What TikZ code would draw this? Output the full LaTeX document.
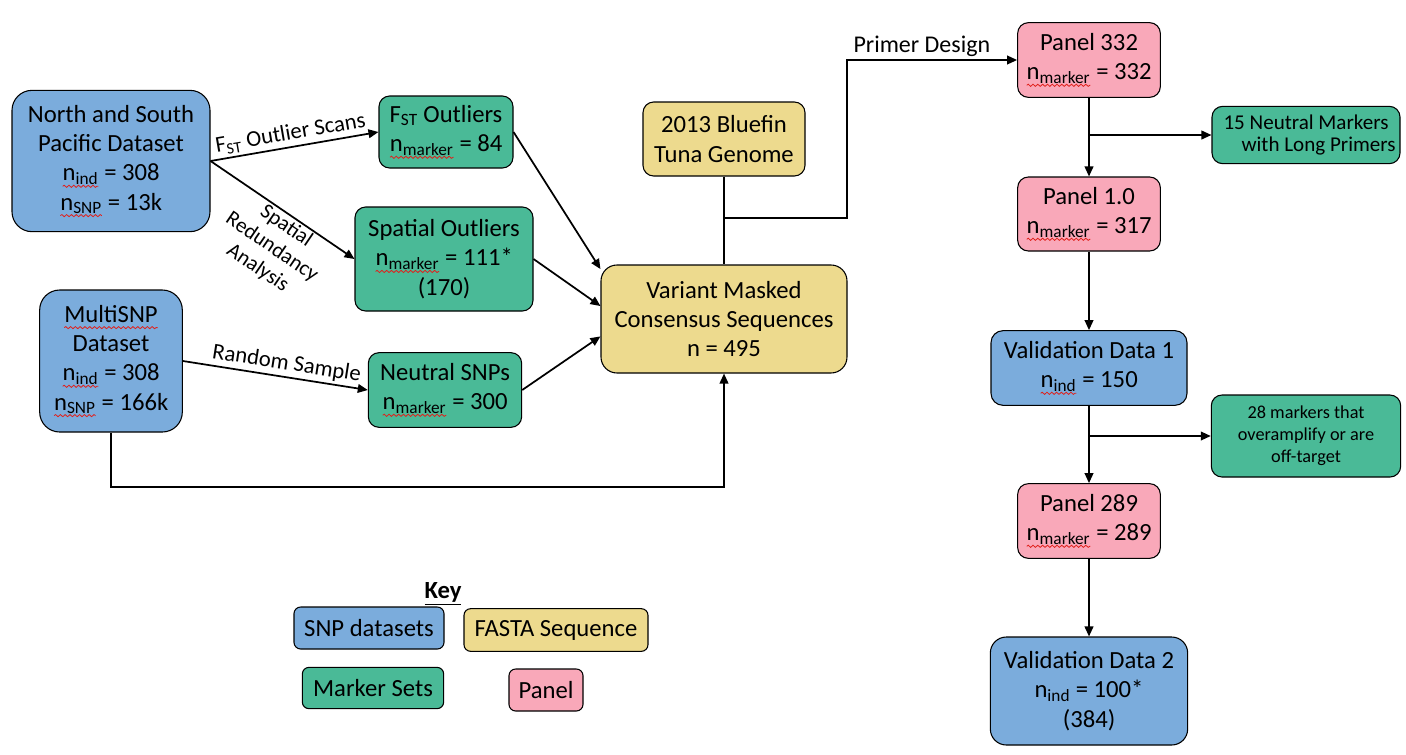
\documentclass[tikz,border=0pt]{standalone}
\usepackage{fontspec}
\setmainfont{Carlito}
\usetikzlibrary{arrows.meta, positioning, decorations.pathmorphing}
\definecolor{snpBlue}{HTML}{7BACDC}
\definecolor{markGreen}{HTML}{4ABA97}
\definecolor{fastaYellow}{HTML}{EDDA8E}
\definecolor{panelPink}{HTML}{F9A8B9}
\definecolor{waveRed}{HTML}{E0201B}
\newcommand{\spellwave}[1]{\tikz[baseline=(w.base), x=1pt, y=1pt]{%
  \node[inner sep=0pt, outer sep=0pt, minimum width=0pt, minimum height=0pt,
        draw=none, fill=none, rounded corners=0pt] (w) {#1};
  \draw[waveRed, line width=0.6pt, sharp corners, decorate,
        decoration={snake, amplitude=0.8pt, segment length=3.6pt}]
    ([yshift=-4.2pt]w.base west) -- ([yshift=-4.2pt]w.base east);}}
\newcommand{\nind}{\spellwave{n\textsubscript{ind}}}
\newcommand{\nsnp}{\spellwave{n\textsubscript{SNP}}}
\newcommand{\nmark}{\spellwave{n\textsubscript{marker}}}

\begin{document}
\begin{tikzpicture}[x=0.75pt, y=-0.75pt,
    box/.style={rectangle, rounded corners=8pt, draw=black, line width=0.8pt,
                align=center, inner sep=1pt, font=\fontsize{18.5}{22}\selectfont},
    snp/.style={box, fill=snpBlue},
    marker/.style={box, fill=markGreen},
    fasta/.style={box, fill=fastaYellow},
    panel/.style={box, fill=panelPink},
    note/.style={marker, font=\fontsize{13.7}{16.5}\selectfont},
    keybox/.style={box, rounded corners=5pt},
    flow/.style={-{Triangle[length=7.5pt, width=6.5pt]}, line width=1.3pt},
    link/.style={line width=1.3pt},
    edgelbl/.style={font=\fontsize{17}{20}\selectfont, inner sep=2pt},
  ]
    \useasboundingbox (0,0) rectangle (1406,754);

    \node[snp, rounded corners=15pt, minimum width=148.5pt, minimum height=106pt] (ns) at (111,161)
      {North and South\\Pacific Dataset\\\nind{} = 308\\\nsnp{} = 13k};
    \node[snp, rounded corners=15pt, minimum width=107pt, minimum height=106.5pt] (multi) at (111,361)
      {\spellwave{MultiSNP}\\Dataset\\\nind{} = 308\\\nsnp{} = 166k};
    \node[marker, minimum width=100.5pt, minimum height=54pt] (fst) at (446,132)
      {F\textsubscript{ST} Outliers\\\nmark{} = 84};
    \node[marker, minimum width=133.5pt, minimum height=78pt] (spat) at (444,259)
      {Spatial Outliers\\\nmark{} = 111*\\(170)};
    \node[marker, minimum width=115pt, minimum height=56pt] (neut) at (445,390)
      {Neutral SNPs\\\nmark{} = 300};
    \node[fasta, minimum width=121.5pt, minimum height=55.5pt] (tuna) at (724,139)
      {2013 Bluefin\\Tuna Genome};
    \node[fasta, rounded corners=12pt, minimum width=184.5pt, minimum height=81pt] (vmc) at (724,319)
      {Variant Masked\\Consensus Sequences\\n = 495};

    \node[panel, minimum width=107pt, minimum height=56pt] (p332) at (1089,60)
      {Panel 332\\\nmark{} = 332};
    \node[note, font=\fontsize{15.8}{16.5}\selectfont, minimum width=141pt, minimum height=43pt] (long) at (1306,135)
      {15 Neutral Markers\\\hspace*{1.2em}with Long Primers};
    \node[panel, minimum width=107pt, minimum height=55.5pt] (p10) at (1089,214)
      {Panel 1.0\\\nmark{} = 317};
    \node[snp, rounded corners=9pt, minimum width=147pt, minimum height=56pt] (val1) at (1089,368)
      {Validation Data 1\\\nind{} = 150};
    \node[note, minimum width=142pt, minimum height=61.5pt] (off) at (1306,436)
      {28 markers that\\overamplify or are\\off-target};
    \node[panel, minimum width=107pt, minimum height=56pt] (p289) at (1089,521)
      {Panel 289\\\nmark{} = 289};
    \node[snp, rounded corners=12pt, minimum width=148pt, minimum height=81pt] (val2) at (1089,691)
      {Validation Data 2\\n\textsubscript{ind} = 100*\\(384)};

    \node[font=\fontsize{18.5}{22}\selectfont\bfseries] (keyt) at (443,594) {\underline{Key}};
    \node[keybox, fill=snpBlue, minimum width=112.5pt, minimum height=31.5pt] (k1) at (369,628) {SNP datasets};
    \node[keybox, fill=fastaYellow, minimum width=138pt, minimum height=32pt] (k2) at (556,630) {FASTA Sequence};
    \node[keybox, fill=markGreen, minimum width=106pt, minimum height=31pt] (k3) at (373,688) {Marker Sets};
    \node[keybox, fill=panelPink, minimum width=55.5pt, minimum height=31.5pt] (k4) at (546,690) {Panel};

    \coordinate (bend) at (847,218);
    \coordinate (low) at (0,487);

    \draw[flow] (ns.east) -- node[edgelbl, sloped, above, pos=0.49] {F\textsubscript{ST} Outlier Scans} (fst.west);
    \draw[flow] (ns.east) -- node[edgelbl, sloped, below, pos=0.57, align=center, inner sep=1pt,
      font=\fontsize{16}{19}\selectfont] {Spatial\\Redundancy\\Analysis} (spat.west);
    \draw[flow] (multi.east) -- node[edgelbl, sloped, above, pos=0.55] {Random Sample} (neut.west);
    \draw[flow] (fst.east) -- (vmc.158);
    \draw[flow] (spat.east) -- (vmc.174);
    \draw[flow] (neut.east) -- (vmc.188);
    \draw[flow] (multi.south) -- (multi.south |- low) -| (vmc.south);

    \draw[link] (tuna.south) -- (vmc.north);
    \draw[flow] (tuna.south |- bend) -- (bend) |- node[edgelbl, above, pos=0.72,
      font=\fontsize{18}{20}\selectfont] {Primer Design} (p332.west);

    \draw[flow] (p332.south) -- (p10.north);
    \draw[flow] (p332.south |- long.west) -- (long.west);
    \draw[flow] (p10.south) -- (val1.north);
    \draw[flow] (val1.south) -- (p289.north);
    \draw[flow] (val1.south |- off.west) -- (off.west);
    \draw[flow] (p289.south) -- (val2.north);
  \end{tikzpicture}
\end{document}
